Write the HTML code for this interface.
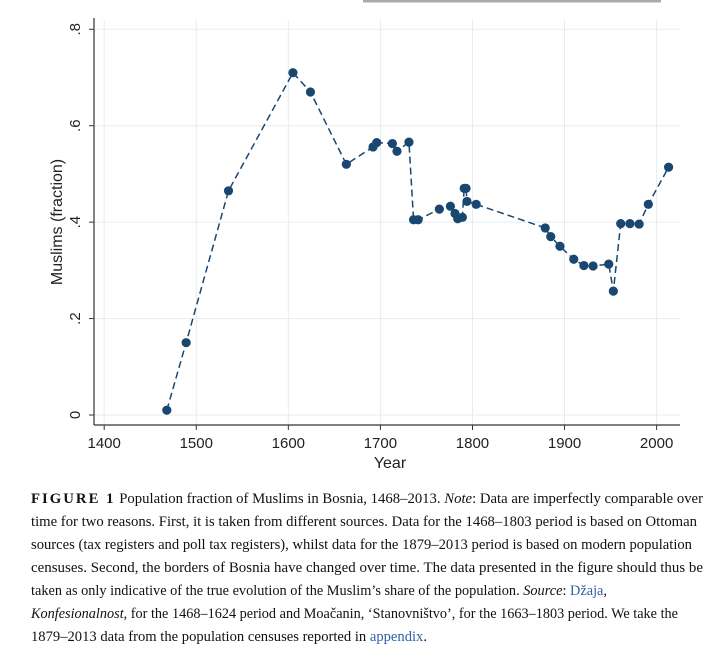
<!DOCTYPE html>
<html><head><meta charset="utf-8">
<style>
html,body{margin:0;padding:0;background:#fff;}
body{width:718px;height:646px;overflow:hidden;position:relative;}
svg{position:absolute;left:0;top:0;}
</style></head>
<body>
<svg width="718" height="646" viewBox="0 0 718 646" font-family="'Liberation Sans', Arial, sans-serif">
  <rect x="363" y="0" width="298" height="2.5" fill="#aaa"/>
  <g id="grid"></g>
  <g id="axes"></g>
  <path id="line" fill="none" stroke="#1a476f" stroke-width="1.5" stroke-dasharray="7,4"/>
  <g id="dots"></g>
  <text x="390" y="468" font-size="16" text-anchor="middle" fill="#222">Year</text>
  <text transform="translate(62,222) rotate(-90)" font-size="16" text-anchor="middle" fill="#222">Muslims (fraction)</text>
  <g font-family="'Liberation Serif', serif" font-size="14.5" fill="#111">
    <text x="31" y="503" textLength="672" lengthAdjust="spacingAndGlyphs"><tspan font-weight="bold" letter-spacing="2">FIGURE 1</tspan>    Population fraction of Muslims in Bosnia, 1468–2013. <tspan font-style="italic">Note</tspan>: Data are imperfectly comparable over</text>
    <text x="31" y="526" textLength="666" lengthAdjust="spacingAndGlyphs">time for two reasons. First, it is taken from different sources. Data for the 1468–1803 period is based on Ottoman</text>
    <text x="31" y="549" textLength="661" lengthAdjust="spacingAndGlyphs">sources (tax registers and poll tax registers), whilst data for the 1879–2013 period is based on modern population</text>
    <text x="31" y="572" textLength="672" lengthAdjust="spacingAndGlyphs">censuses. Second, the borders of Bosnia have changed over time. The data presented in the figure should thus be</text>
    <text x="31" y="595" textLength="576" lengthAdjust="spacingAndGlyphs">taken as only indicative of the true evolution of the Muslim’s share of the population. <tspan font-style="italic">Source</tspan>: <tspan fill="#2f5fa8">Džaja</tspan>,</text>
    <text x="31" y="618" textLength="647" lengthAdjust="spacingAndGlyphs"><tspan font-style="italic">Konfesionalnost</tspan>, for the 1468–1624 period and Moačanin, ‘Stanovništvo’, for the 1663–1803 period. We take the</text>
    <text x="31" y="641" textLength="396" lengthAdjust="spacingAndGlyphs">1879–2013 data from the population censuses reported in <tspan fill="#2f5fa8">appendix</tspan>.</text>
  </g>
</svg>
<script>
const years=[1468,1489,1535,1605,1624,1663,1692,1696,1713,1718,1731,1736,1741,1764,1776,1781,1784,1789,1791,1793,1794,1804,1879,1885,1895,1910,1921,1931,1948,1953,1961,1971,1981,1991,2013];
const values=[0.01,0.15,0.465,0.71,0.67,0.52,0.556,0.565,0.563,0.547,0.566,0.405,0.405,0.427,0.433,0.418,0.407,0.41,0.47,0.47,0.443,0.437,0.388,0.37,0.35,0.323,0.31,0.309,0.313,0.257,0.397,0.397,0.396,0.437,0.514];
const xTicks=[1400,1500,1600,1700,1800,1900,2000];
const yTicks=[0,0.2,0.4,0.6,0.8];
const yTickLabels=["0",".2",".4",".6",".8"];
const NS="http://www.w3.org/2000/svg";
const X=v=>104.2+(v-1400)*0.9207;
const Y=v=>415+(29.3-415)*v/0.8;
const AX=94, AR=680;
function mk(t,a,p){const e=document.createElementNS(NS,t);for(const k in a)e.setAttribute(k,a[k]);p.appendChild(e);return e;}
const grid=document.getElementById('grid'),axes=document.getElementById('axes');
xTicks.forEach(t=>{
  const g=mk('line',{x1:X(t),x2:X(t),y1:20,y2:425,stroke:'#e3eef2','stroke-width':1},grid);
  
  
  mk('line',{x1:X(t),x2:X(t),y1:425,y2:430,stroke:'#333'},axes);
  const l=mk('text',{x:X(t),y:448,'font-size':15,'text-anchor':'middle',fill:'#222'},axes);
  l.textContent=t;
  
  
});
yTicks.forEach((t,i)=>{
  const g=mk('line',{x1:AX,x2:AR,y1:Y(t),y2:Y(t),stroke:'#e3eef2','stroke-width':1},grid);
  
  
  mk('line',{x1:AX-5,x2:AX,y1:Y(t),y2:Y(t),stroke:'#333'},axes);
  const l=mk('text',{transform:`translate(${80},${Y(t)}) rotate(-90)`,'font-size':15,'text-anchor':'middle',fill:'#222'},axes);
  l.textContent=yTickLabels[i];
  
  
});
mk('line',{x1:AX,x2:AX,y1:18,y2:425,stroke:'#333','stroke-width':1.2},axes);
mk('line',{x1:AX,x2:AR,y1:425,y2:425,stroke:'#333','stroke-width':1.2},axes);
document.getElementById('line').setAttribute('d',years.map((y,i)=>(i?'L':'M')+X(y)+','+Y(values[i])).join(''));
const dots=document.getElementById('dots');
years.forEach((y,i)=>{
  const c=mk('circle',{cx:X(y),cy:Y(values[i]),r:4.6,fill:'#1a476f'},dots);
  
  
});
</script>
</body></html>
